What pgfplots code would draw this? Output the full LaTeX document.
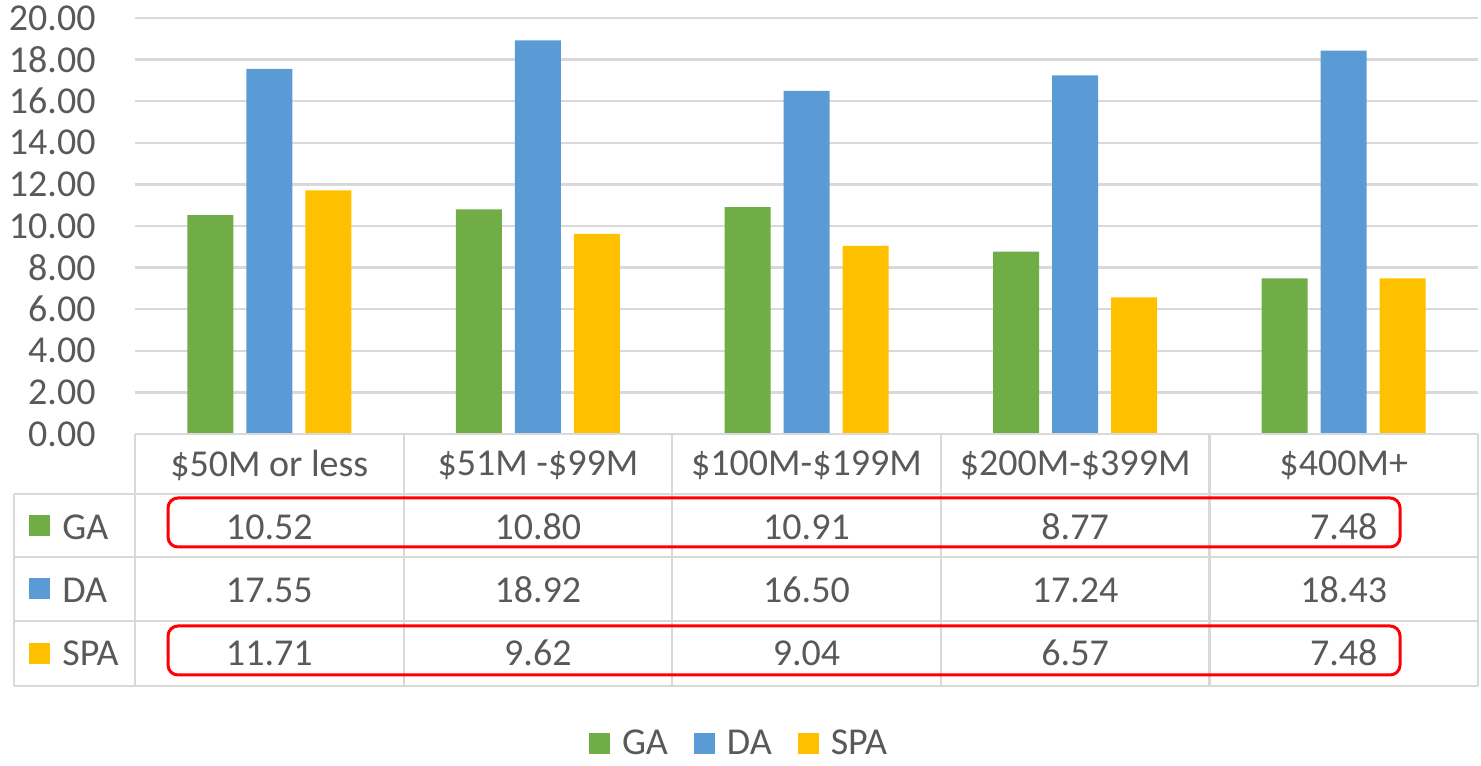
\documentclass[border=0pt]{standalone}
\usepackage{pgfplots}
\pgfplotsset{compat=1.18}
\usepackage{fontspec}
\setmainfont{Carlito}
\definecolor{gaC}{HTML}{70AD47}
\definecolor{daC}{HTML}{5B9BD5}
\definecolor{spaC}{HTML}{FFC000}
\definecolor{gridC}{HTML}{D9D9D9}
\definecolor{txtC}{HTML}{595959}
\newcommand{\bigf}{\fontsize{19}{22}\selectfont}
\pgfplotsset{sqlegend/.style={legend image code/.code={\fill[##1] (0pt,-5.25pt) rectangle (10.5pt,5.25pt); \path (14.5pt,0pt);}}}
\begin{document}
\begin{tikzpicture}
\path (0,0) rectangle (740.5pt,379.5pt);
\begin{axis}[
  at={(67.5pt,162.5pt)}, anchor=south west,
  scale only axis, width=671.5pt, height=208pt,
  xmin=-0.5, xmax=4.5, ymin=0, ymax=20,
  ytick={0,2,...,20},
  xtick=\empty,
  axis line style={draw=none},
  ymajorgrids, grid style={gridC, line width=1.25pt},
  major tick length=0pt,
  yticklabel style={font=\bigf, text=txtC, anchor=east, inner sep=0pt, xshift=-19.5pt,
    /pgf/number format/fixed, /pgf/number format/fixed zerofill,
    /pgf/number format/precision=2, /pgf/number format/assume math mode=true},
  clip=false,
  legend columns=3,
  legend style={at={(0.4505,-0.745)}, anchor=center, draw=none, font=\bigf, text=txtC,
    /tikz/every even column/.append style={column sep=11pt}},
]
\addplot[ybar, bar width=23pt, bar shift=-29.5pt, fill=gaC, draw=none, sqlegend]
  coordinates {(0,10.52) (1,10.80) (2,10.91) (3,8.77) (4,7.48)};
\addplot[ybar, bar width=23pt, bar shift=0pt, fill=daC, draw=none, sqlegend]
  coordinates {(0,17.55) (1,18.92) (2,16.50) (3,17.24) (4,18.43)};
\addplot[ybar, bar width=23pt, bar shift=29.5pt, fill=spaC, draw=none, sqlegend]
  coordinates {(0,11.71) (1,9.62) (2,9.04) (3,6.57) (4,7.48)};
\legend{GA,DA,SPA}
\end{axis}
\begin{scope}[x=0.5pt,y=-0.5pt,yshift=379.5pt]
  \draw[gridC, line width=1.1pt] (135,434) -- (1478,434);
  \foreach \yy in {494,557,621,686} {\draw[gridC, line width=1.1pt] (14,\yy) -- (1478,\yy);}
  \foreach \xx in {135,403.6,672.2,940.8,1209.4,1478} {\draw[gridC, line width=1.1pt] (\xx,434) -- (\xx,686);}
  \draw[gridC, line width=1.1pt] (14,494) -- (14,686);
  % header
  \foreach \xx/\lab in {269.3/{\$50M or less}, 537.9/{\$51M -\$99M}, 806.5/{\$100M-\$199M}, 1075.1/{\$200M-\$399M}, 1343.7/{\$400M+}}
    {\node[font=\bigf, text=txtC, inner sep=0pt] at (\xx,465) {\lab};}
  % rows
  \foreach \xx/\a/\b/\c in {269.3/10.52/17.55/11.71, 537.9/10.80/18.92/9.62, 806.5/10.91/16.50/9.04, 1075.1/8.77/17.24/6.57, 1343.7/7.48/18.43/7.48}
    {\node[font=\bigf, text=txtC, inner sep=0pt] at (\xx,527) {\a};
     \node[font=\bigf, text=txtC, inner sep=0pt] at (\xx,590) {\b};
     \node[font=\bigf, text=txtC, inner sep=0pt] at (\xx,653) {\c};}
  % row labels
  \fill[gaC] (29,515) rectangle (50,536);
  \fill[daC] (29,578) rectangle (50,599);
  \fill[spaC] (29,643) rectangle (50,664);
  \node[font=\bigf, text=txtC, inner sep=0pt, anchor=west] at (62,527) {GA};
  \node[font=\bigf, text=txtC, inner sep=0pt, anchor=west] at (62,590) {DA};
  \node[font=\bigf, text=txtC, inner sep=0pt, anchor=west] at (62,653) {SPA};
  % red highlight boxes
  \draw[red, line width=1.5pt, rounded corners=5pt] (168,498) rectangle (1400,547);
  \draw[red, line width=1.5pt, rounded corners=5pt] (168,626) rectangle (1400,675);
\end{scope}
\end{tikzpicture}
\end{document}
